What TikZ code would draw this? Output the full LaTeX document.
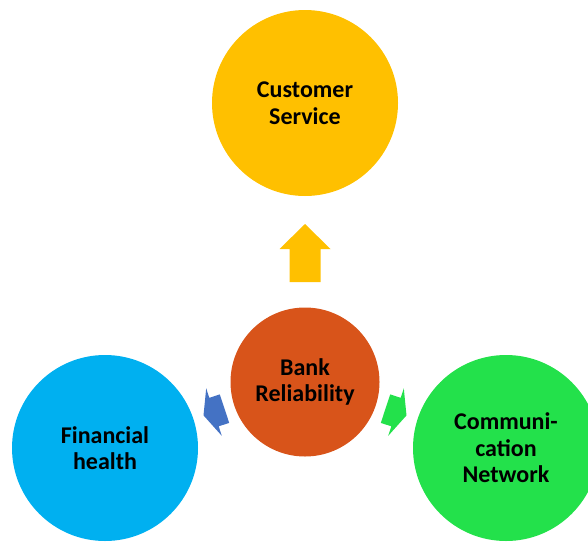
\documentclass[tikz,border=0pt]{standalone}
\usepackage{fontspec}
\setmainfont{Carlito}
\definecolor{cyel}{RGB}{255,192,0}
\definecolor{corg}{RGB}{216,84,26}
\definecolor{cblu}{RGB}{0,176,240}
\definecolor{cgrn}{RGB}{35,225,75}
\definecolor{carb}{RGB}{68,114,196}
\tikzset{
  bub/.style={circle, draw=none, inner sep=0pt, align=center,
    font=\fontsize{24}{26.5}\selectfont\bfseries, text=black},
  blk/.style={draw=none}
}
\begin{document}
\begin{tikzpicture}[x=1pt,y=-1pt]
\useasboundingbox (0,0) rectangle (588,541);
\clip (0,0) rectangle (588,541);
\node[bub, fill=cyel, minimum size=186pt] (cs) at (305,103) {Customer\\Service};
\node[bub, fill=corg, minimum size=149pt] (br) at (305,382) {Bank\\Reliability};
\node[bub, fill=cblu, minimum size=186pt] (fh) at (105,448) {Financial\\health};
\node[bub, fill=cgrn, minimum size=186pt] (cn) at (506,448) {Communi-\\cation\\Network};
% up arrow
\fill[cyel] (305,224) -- (330.5,249) -- (320.5,249) -- (320.5,282) -- (289.5,282) -- (289.5,249) -- (279.5,249) -- cycle;
% left arrow
\fill[carb] (203.5,415.4) -- (206.2,388.3) -- (209.3,397.8) -- (219.8,394.4) -- (229.2,422.9) -- (218.7,426.3) -- (221.8,435.8) -- cycle;
% right arrow (mirror)
\fill[cgrn] (406.5,415.4) -- (403.8,388.3) -- (400.7,397.8) -- (390.2,394.4) -- (380.8,422.9) -- (391.3,426.3) -- (388.2,435.8) -- cycle;
\end{tikzpicture}
\end{document}
